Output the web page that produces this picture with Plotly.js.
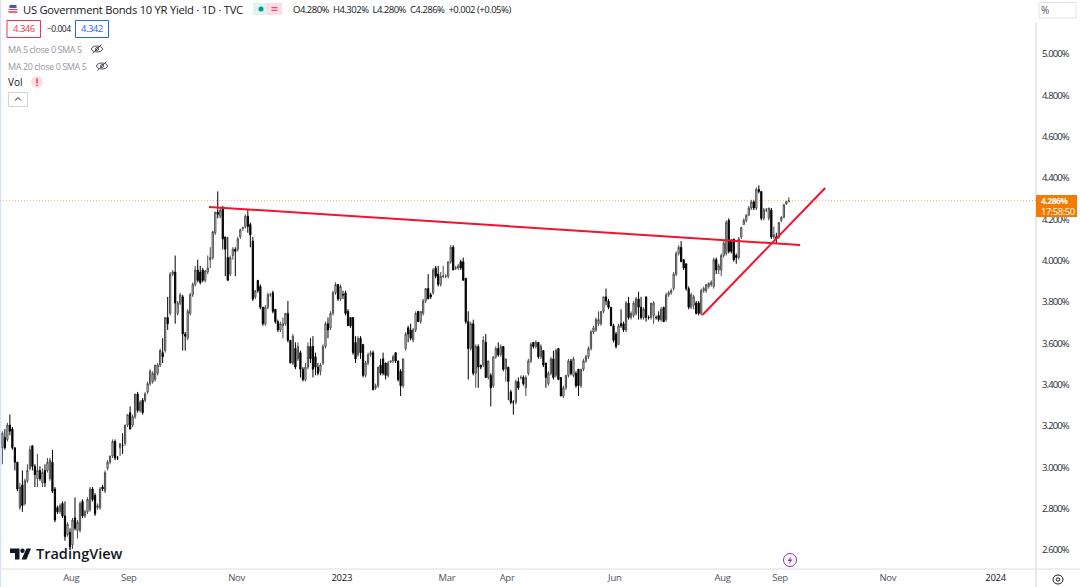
<!DOCTYPE html>
<html><head><meta charset="utf-8">
<script src="https://cdn.plot.ly/plotly-3.0.1.min.js"></script>
<style>html,body{margin:0;padding:0;background:#fff;overflow:hidden}#c{width:1080px;height:587px}
.ytick text{letter-spacing:-0.9px}
.xtick text{letter-spacing:-0.3px}
.annotation-text[data-unformatted*="."],.annotation-text[data-unformatted*=":"]{letter-spacing:-0.5px}
.annotation-text[data-unformatted*="SMA"]{letter-spacing:-0.4px}
.annotation-text[data-unformatted*="Government"]{letter-spacing:-0.25px}
</style>
</head><body><div id="c"></div>
<script>
const firstDay = '2022-06-23';
const opens = [
3.09,3.14,3.13,3.20,3.18,3.09,3.02,2.80,2.91,2.82,
2.93,2.99,3.10,3.00,2.94,2.98,2.92,2.98,2.98,2.94,
3.02,2.89,2.80,2.78,2.82,2.76,2.67,2.68,2.62,2.75,
2.69,2.69,2.83,2.76,2.78,2.79,2.89,2.86,2.80,2.80,
2.90,2.88,2.99,3.02,3.05,3.12,3.04,3.09,3.10,3.11,
3.20,3.26,3.20,3.24,3.35,3.27,3.32,3.32,3.36,3.40,
3.41,3.42,3.45,3.49,3.55,3.56,3.72,3.74,3.93,3.94,
3.74,3.79,3.82,3.64,3.62,3.74,3.83,3.88,3.95,3.94,
3.95,3.90,3.94,4.00,4.01,4.13,4.23,4.21,4.25,4.11,
4.01,3.93,4.02,4.05,4.05,4.11,4.15,4.16,4.21,4.17,
4.09,3.82,3.90,3.87,3.77,3.69,3.77,3.83,3.84,3.76,
3.70,3.66,3.68,3.69,3.74,3.61,3.50,3.57,3.52,3.55,
3.47,3.42,3.48,3.58,3.58,3.53,3.48,3.46,3.50,3.58,
3.69,3.67,3.74,3.84,3.88,3.81,3.83,3.84,3.75,3.72,
3.72,3.60,3.54,3.62,3.59,3.44,3.50,3.54,3.55,3.38,
3.39,3.49,3.52,3.50,3.44,3.505,3.51,3.55,3.51,3.46,
3.39,3.57,3.67,3.66,3.61,3.66,3.75,3.70,3.74,3.80,
3.86,3.83,3.84,3.96,3.93,3.88,3.92,3.92,3.92,3.99,
4.06,3.96,3.96,3.99,3.99,3.91,3.70,3.57,3.69,3.45,
3.58,3.49,3.49,3.60,3.43,3.44,3.39,3.53,3.57,3.54,
3.58,3.47,3.48,3.36,3.31,3.31,3.41,3.43,3.43,3.38,
3.45,3.51,3.60,3.58,3.60,3.53,3.56,3.50,3.40,3.45,
3.52,3.44,3.57,3.43,3.34,3.38,3.44,3.51,3.44,3.45,
3.47,3.39,3.47,3.51,3.53,3.57,3.65,3.66,3.69,3.69,
3.75,3.82,3.80,3.77,3.68,3.64,3.59,3.69,3.69,3.66,
3.79,3.72,3.73,3.74,3.81,3.77,3.72,3.82,3.72,3.72,
3.73,3.72,3.73,3.71,3.77,3.71,3.83,3.84,3.86,3.93,
4.03,4.06,4.00,3.98,3.86,3.77,3.78,3.79,3.79,3.74,
3.85,3.85,3.87,3.88,3.87,4.00,3.95,3.95,4.02,4.03,
4.19,4.09,4.10,4.02,4.01,4.11,4.17,4.19,4.215,4.25,
4.28,4.25,4.34,4.33,4.20,4.24,4.20,4.24,4.11,4.11,
4.11,4.19,4.205,4.27,4.28];
const highs = [
3.17,3.18,3.21,3.25,3.19,3.09,3.02,2.92,2.98,2.94,
3.01,3.10,3.10,3.01,3.06,3.00,2.99,3.01,3.04,3.04,
3.08,2.90,2.81,2.82,2.83,2.83,2.73,2.70,2.75,2.85,
2.74,2.83,2.84,2.79,2.85,2.90,2.90,2.87,2.82,2.90,
2.91,2.98,3.03,3.05,3.13,3.13,3.05,3.11,3.16,3.20,
3.25,3.29,3.25,3.35,3.36,3.32,3.33,3.36,3.41,3.47,
3.46,3.49,3.50,3.57,3.62,3.72,3.82,3.94,3.95,4.02,
3.80,3.84,3.83,3.65,3.76,3.84,3.89,3.97,4.00,3.97,
3.96,3.95,4.02,4.06,4.14,4.23,4.33,4.25,4.26,4.11,
4.11,4.02,4.06,4.06,4.11,4.15,4.16,4.22,4.245,4.18,
4.11,3.85,3.90,3.88,3.77,3.78,3.84,3.84,3.85,3.76,
3.71,3.70,3.72,3.74,3.80,3.61,3.64,3.60,3.60,3.56,
3.48,3.50,3.60,3.62,3.63,3.55,3.50,3.50,3.59,3.70,
3.72,3.75,3.85,3.89,3.88,3.88,3.85,3.85,3.76,3.72,
3.72,3.63,3.63,3.63,3.59,3.51,3.55,3.56,3.56,3.40,
3.48,3.52,3.55,3.50,3.51,3.51,3.54,3.55,3.51,3.47,
3.52,3.65,3.68,3.69,3.67,3.75,3.75,3.75,3.81,3.86,
3.93,3.84,3.96,3.97,3.97,3.94,3.97,3.93,3.99,4.07,
4.07,3.97,3.98,4.00,4.01,3.91,3.75,3.70,3.71,3.59,
3.59,3.49,3.63,3.64,3.51,3.45,3.53,3.58,3.60,3.59,
3.58,3.52,3.48,3.37,3.32,3.42,3.43,3.44,3.44,3.44,
3.52,3.60,3.60,3.61,3.60,3.59,3.56,3.50,3.46,3.53,
3.56,3.57,3.57,3.43,3.39,3.44,3.52,3.52,3.53,3.46,
3.47,3.47,3.52,3.54,3.58,3.66,3.68,3.72,3.75,3.75,
3.82,3.86,3.81,3.77,3.69,3.65,3.69,3.76,3.70,3.80,
3.82,3.75,3.80,3.82,3.845,3.82,3.77,3.82,3.73,3.79,
3.80,3.73,3.75,3.77,3.77,3.84,3.85,3.86,3.94,4.04,
4.07,4.09,4.00,3.98,3.87,3.84,3.83,3.80,3.80,3.86,
3.87,3.88,3.89,3.90,4.01,4.01,3.98,4.03,4.09,4.19,
4.20,4.10,4.10,4.03,4.11,4.16,4.20,4.22,4.26,4.29,
4.29,4.35,4.36,4.33,4.25,4.25,4.25,4.25,4.16,4.13,
4.18,4.21,4.27,4.285,4.302];
const lows = [
3.01,3.08,3.12,3.15,3.08,2.98,2.88,2.79,2.78,2.81,
2.92,2.98,2.98,2.90,2.90,2.93,2.90,2.90,2.97,2.93,
2.87,2.73,2.77,2.77,2.75,2.64,2.66,2.60,2.60,2.69,
2.65,2.68,2.75,2.75,2.77,2.78,2.83,2.76,2.79,2.79,
2.88,2.87,2.98,3.01,3.04,3.03,3.03,3.05,3.06,3.10,
3.19,3.18,3.19,3.23,3.26,3.26,3.25,3.31,3.35,3.39,
3.40,3.41,3.44,3.48,3.50,3.55,3.66,3.73,3.92,3.69,
3.73,3.78,3.56,3.56,3.61,3.73,3.82,3.87,3.89,3.88,
3.89,3.89,3.93,3.96,4.00,4.12,4.20,4.20,4.05,3.92,
3.90,3.92,4.00,3.92,4.04,4.10,4.14,4.15,4.13,4.06,
3.80,3.81,3.84,3.76,3.68,3.68,3.76,3.82,3.74,3.69,
3.65,3.65,3.62,3.68,3.60,3.50,3.49,3.47,3.51,3.43,
3.41,3.41,3.47,3.50,3.43,3.44,3.44,3.44,3.49,3.57,
3.62,3.66,3.73,3.83,3.80,3.80,3.81,3.73,3.68,3.67,
3.54,3.50,3.53,3.52,3.43,3.43,3.49,3.53,3.37,3.37,
3.38,3.44,3.44,3.42,3.43,3.50,3.50,3.50,3.41,3.34,
3.38,3.56,3.60,3.61,3.60,3.65,3.70,3.69,3.73,3.79,
3.81,3.81,3.83,3.91,3.87,3.87,3.91,3.91,3.91,3.98,
3.95,3.95,3.95,3.95,3.90,3.69,3.42,3.56,3.44,3.38,
3.38,3.47,3.48,3.43,3.42,3.29,3.38,3.52,3.53,3.53,
3.46,3.41,3.32,3.30,3.25,3.30,3.37,3.42,3.39,3.34,
3.44,3.50,3.57,3.57,3.52,3.52,3.48,3.38,3.39,3.44,
3.42,3.43,3.42,3.34,3.33,3.37,3.43,3.44,3.43,3.38,
3.34,3.38,3.46,3.50,3.52,3.56,3.64,3.65,3.68,3.68,
3.74,3.78,3.76,3.68,3.60,3.57,3.59,3.67,3.65,3.65,
3.71,3.71,3.72,3.73,3.71,3.71,3.71,3.70,3.71,3.71,
3.69,3.71,3.70,3.70,3.70,3.70,3.82,3.83,3.85,3.92,
4.02,3.99,3.95,3.85,3.76,3.76,3.76,3.735,3.73,3.73,
3.84,3.84,3.86,3.87,3.86,3.93,3.93,3.92,4.01,4.02,
4.03,4.03,3.99,3.98,4.00,4.10,4.17,4.18,4.21,4.24,
4.24,4.24,4.32,4.19,4.19,4.23,4.19,4.10,4.10,4.08,
4.10,4.18,4.20,4.265,4.28];
const closes = [
3.16,3.09,3.20,3.17,3.09,3.02,2.89,2.90,2.81,2.93,
2.98,3.08,3.00,2.96,2.98,2.94,2.97,2.92,3.02,3.03,
2.88,2.74,2.78,2.81,2.76,2.66,2.72,2.61,2.74,2.70,
2.73,2.82,2.76,2.78,2.84,2.89,2.84,2.77,2.81,2.89,
2.89,2.97,3.02,3.05,3.12,3.04,3.04,3.11,3.10,3.20,
3.25,3.18,3.24,3.35,3.27,3.31,3.26,3.35,3.40,3.46,
3.45,3.49,3.49,3.56,3.53,3.72,3.69,3.93,3.94,3.79,
3.79,3.83,3.64,3.63,3.75,3.83,3.88,3.95,3.90,3.89,
3.90,3.945,3.96,4.01,4.135,4.23,4.22,4.24,4.10,4.05,
3.90,4.01,4.05,4.04,4.10,4.145,4.155,4.21,4.16,4.12,
3.81,3.85,3.85,3.77,3.69,3.77,3.83,3.83,3.75,3.70,
3.66,3.69,3.69,3.74,3.61,3.50,3.63,3.48,3.58,3.47,
3.42,3.48,3.58,3.52,3.47,3.48,3.45,3.49,3.58,3.69,
3.66,3.74,3.84,3.88,3.81,3.87,3.83,3.74,3.68,3.68,
3.55,3.52,3.62,3.55,3.44,3.50,3.54,3.55,3.37,3.39,
3.48,3.45,3.45,3.44,3.50,3.51,3.53,3.51,3.42,3.39,
3.52,3.64,3.64,3.62,3.66,3.74,3.70,3.75,3.80,3.86,
3.81,3.82,3.95,3.92,3.88,3.92,3.92,3.92,3.99,4.06,
3.95,3.96,3.97,3.96,3.90,3.70,3.57,3.69,3.45,3.58,
3.48,3.48,3.61,3.43,3.51,3.38,3.53,3.57,3.54,3.58,
3.47,3.52,3.41,3.31,3.31,3.41,3.38,3.43,3.40,3.43,
3.51,3.59,3.58,3.60,3.53,3.58,3.49,3.43,3.45,3.52,
3.43,3.56,3.42,3.34,3.38,3.44,3.51,3.45,3.52,3.39,
3.39,3.47,3.51,3.53,3.57,3.65,3.67,3.71,3.71,3.75,
3.82,3.80,3.77,3.68,3.61,3.58,3.68,3.68,3.66,3.79,
3.72,3.74,3.79,3.81,3.77,3.72,3.76,3.72,3.72,3.79,
3.79,3.72,3.71,3.76,3.70,3.83,3.84,3.85,3.93,4.03,
4.06,3.99,3.96,3.86,3.77,3.83,3.82,3.74,3.74,3.85,
3.86,3.88,3.885,3.89,4.00,3.95,3.97,4.02,4.08,4.18,
4.04,4.04,4.00,4.01,4.10,4.155,4.19,4.215,4.25,4.28,
4.25,4.34,4.33,4.20,4.24,4.24,4.25,4.11,4.12,4.10,
4.18,4.205,4.265,4.28,4.286];

const resistanceDates = ['2022-10-18', '2023-09-13'];
const resistanceVals = [4.255, 4.071];
const supportDates = ['2023-07-20', '2023-09-27'];
const supportVals = [3.732, 4.347];

const xTickDates = ['2022-08-02','2022-09-02','2022-11-02','2022-12-30','2023-02-28','2023-04-03','2023-06-01','2023-08-01','2023-09-01','2023-11-01','2024-01-01'];
const dark = t => `<span style="color:#131722">${t}</span>`;
const xTickText = ['Aug','Sep','Nov',dark('2023'),'Mar','Apr','Jun','Aug','Sep','Nov',dark('2024')];
const yTicks = [2.6,2.8,3.0,3.2,3.4,3.6,3.8,4.0,4.2,4.4,4.6,4.8,5.0];
const yTickText = ['2.600%','2.800%','3.000%','3.200%','3.400%','3.600%','3.800%','4.000%','4.200%','4.400%','4.600%','4.800%','5.000%'];

const titleText = 'US Government Bonds 10 YR Yield · 1D · TVC';
const ohlcText = 'O4.280%  H4.302%  L4.280%  C4.286%  +0.002 (+0.05%)';
const lastPrice = 4.286;

const dates = [];
{
  const d = new Date(firstDay + 'T12:00:00Z');
  while (dates.length < closes.length) {
    const w = d.getUTCDay();
    if (w !== 0 && w !== 6) dates.push(d.toISOString().slice(0,10) + ' 12:00');
    d.setUTCDate(d.getUTCDate() + 1);
  }
}

const W = 1080, H = 587, ml = 0, mr = 44, mt = 22, mb = 19;
const px = x => (x - ml) / (W - ml - mr);
const py = y => 1 - (y - mt) / (H - mt - mb);
const FONT = '"Open Sans","Noto Sans",sans-serif';
const note = (text, x, y, size, color, extra) => Object.assign({
  text, x: px(x), y: py(y), xref:'paper', yref:'paper', xanchor:'left', yanchor:'middle',
  showarrow:false, font:{family:FONT, size, color}, borderpad:0, borderwidth:0
}, extra || {});
const rect = (x0,y0,x1,y1,line,fill,w) => ({type:'rect',xref:'paper',yref:'paper',x0:px(x0),x1:px(x1),y0:py(y0),y1:py(y1),
  line:{color:line,width:w===undefined?1:w},fillcolor:fill||'rgba(0,0,0,0)',layer:'above'});
const seg = (x0,y0,x1,y1,color,w) => ({type:'line',xref:'paper',yref:'paper',x0:px(x0),x1:px(x1),y0:py(y0),y1:py(y1),line:{color,width:w||1},layer:'above'});
const circ = (cx,cy,rx,ry,line,fill,w) => ({type:'circle',xref:'paper',yref:'paper',x0:px(cx-rx),x1:px(cx+rx),y0:py(cy-ry),y1:py(cy+ry),
  line:{color:line,width:w===undefined?1:w},fillcolor:fill||'rgba(0,0,0,0)',layer:'above'});
const eye = (cx,cy) => [
  circ(cx,cy,5.5,3,'#50535e','rgba(0,0,0,0)',1),
  circ(cx,cy,1.5,1.5,'#50535e','rgba(0,0,0,0)',1),
  seg(cx-4.5,cy+4.5,cx+4.5,cy-4.5,'#50535e',1)
];

const shapes = [
  seg(0.5,0,0.5,587,'#d9e2f3',1.5),
  seg(0,569,1080,569,'#e8e9ee',1.5),
  seg(1036,22,1036,587,'#e8e9ee',2),
  {type:'line',xref:'paper',yref:'y',x0:0,x1:px(1036),y0:lastPrice,y1:lastPrice,layer:'above',
   line:{color:'rgba(245,124,0,0.55)',width:1,dash:'1px,2px'}},
  rect(1036,195,1077,217,'#f57c00','#f57c00',0),
  rect(7,20.5,40.5,37.5,'#f23645','#ffffff',1),
  rect(75.5,20.5,108.5,37.5,'#2962ff','#ffffff',1),
  rect(253,3,282,15,'#dff2ee','#dff2ee',0),
  rect(267,3,282,15,'#fbdde3','#fbdde3',0),
  circ(261,9,2.5,2.5,'#089981','#089981',0),
  seg(271.5,7.7,277.5,7.7,'#e91e63',1),
  seg(271.5,10.3,277.5,10.3,'#e91e63',1),
  circ(37,82,6,6,'#fbdde3','#fbdde3',0),
  seg(37,78.5,37,83.5,'#f23645',1.5),
  seg(37,84.8,37,86,'#f23645',1.5),
  rect(8.5,92.5,27.5,106.5,'#d1d4dc','#ffffff',1),
  seg(15,100.5,18,97.5,'#131722',1),
  seg(18,97.5,21,100.5,'#131722',1),
  ...eye(97,49), ...eye(102,66),
  circ(13,9,5.5,5.5,'#d9dde6','#f5f5f5',0),
  seg(8.5,12,17.5,12,'#e2404f',1.5),
  seg(8.5,9.5,17.5,9.5,'#e2404f',1),
  seg(9.5,6.5,16.5,6.5,'#3f5fa8',3),
  rect(1039,2.5,1076,18,'#e0e3eb','#ffffff',1),
  circ(790,560,6.5,6.5,'#9c27b0','rgba(0,0,0,0)',1),
  {type:'path',xref:'paper',yref:'paper',layer:'above',line:{width:0},fillcolor:'#9c27b0',
   path:`M ${px(791.5)} ${py(556)} L ${px(787.5)} ${py(561)} L ${px(790)} ${py(561)} L ${px(788.5)} ${py(564.5)} L ${px(792.5)} ${py(559.5)} L ${px(790)} ${py(559.5)} Z`},
  circ(1058,579.5,5,4.5,'#131722','rgba(0,0,0,0)',1),
  circ(1058,579.5,1.7,1.7,'#131722','rgba(0,0,0,0)',1),
  {type:'path',xref:'paper',yref:'paper',layer:'above',line:{width:0},fillcolor:'#131722',
   path:`M ${px(10)} ${py(548.5)} L ${px(19.5)} ${py(548.5)} L ${px(19.5)} ${py(559.5)} L ${px(15)} ${py(559.5)} L ${px(15)} ${py(553)} L ${px(10)} ${py(553)} Z`},
  circ(22.5,550.7,2.2,2.2,'#131722','#131722',0),
  {type:'path',xref:'paper',yref:'paper',layer:'above',line:{width:0},fillcolor:'#131722',
   path:`M ${px(26.5)} ${py(548.5)} L ${px(31)} ${py(548.5)} L ${px(26.5)} ${py(559.5)} L ${px(21.5)} ${py(559.5)} Z`}
];

const annotations = [
  note(titleText, 23, 9.5, 11.2, '#131722'),
  note(ohlcText, 293, 9.5, 9.5, '#131722'),
  note('4.346', 12.5, 29, 9.5, '#f23645'),
  note('−0.004', 47, 29, 8.5, '#131722'),
  note('4.342', 81, 29, 9.5, '#2962ff'),
  note('MA 5 close 0 SMA 5', 8, 49, 9, '#9598a1'),
  note('MA 20 close 0 SMA 5', 8, 66, 9, '#9598a1'),
  note('Vol', 8, 82, 10, '#131722'),
  note('%', 1041, 9.5, 10, '#50535e'),
  note('4.286%', 1041, 201, 8.5, '#ffffff', {font:{family:FONT,size:8.5,color:'#ffffff',weight:700}}),
  note('17:58:50', 1041, 211, 9.5, '#ffffff'),
  note('TradingView', 36, 553.5, 14.5, '#131722', {font:{family:FONT,size:14.5,color:'#131722',weight:600}})
];

const traces = [
  {type:'candlestick', x:dates, open:opens, high:highs, low:lows, close:closes,
   increasing:{line:{color:'#4a4a4a',width:1},fillcolor:'#ffffff'},
   decreasing:{line:{color:'#000000',width:1},fillcolor:'#000000'},
   whiskerwidth:0, hoverinfo:'skip', showlegend:false},
  {type:'scatter', mode:'lines', x:resistanceDates, y:resistanceVals, line:{color:'#f0142f',width:2}, hoverinfo:'skip', showlegend:false},
  {type:'scatter', mode:'lines', x:supportDates, y:supportVals, line:{color:'#f0142f',width:2}, hoverinfo:'skip', showlegend:false}
];

const layout = {
  width:W, height:H, margin:{l:ml,r:mr,t:mt,b:mb,pad:0},
  paper_bgcolor:'#ffffff', plot_bgcolor:'#ffffff', showlegend:false, dragmode:false,
  font:{family:FONT,size:10,color:'#131722'},
  xaxis:{type:'date', range:['2022-06-22 13:26','2024-01-23 04:00'], rangebreaks:[{bounds:['sat','mon']}],
    rangeslider:{visible:false}, showgrid:false, zeroline:false, showline:false, ticks:'', fixedrange:true,
    tickmode:'array', tickvals:xTickDates, ticktext:xTickText, ticklabelstandoff:2,
    tickfont:{family:FONT,size:9.5,color:'#50535e'}},
  yaxis:{side:'right', range:[2.508,5.15], showgrid:false, zeroline:false, showline:false, ticks:'', fixedrange:true,
    tickmode:'array', tickvals:yTicks, ticktext:yTickText, ticklabelstandoff:5, ticklabelshift:1,
    tickfont:{family:FONT,size:9.5,color:'#2a2e39'}},
  shapes, annotations
};
Plotly.newPlot('c', traces, layout, {displayModeBar:false, staticPlot:true});
</script></body></html>
